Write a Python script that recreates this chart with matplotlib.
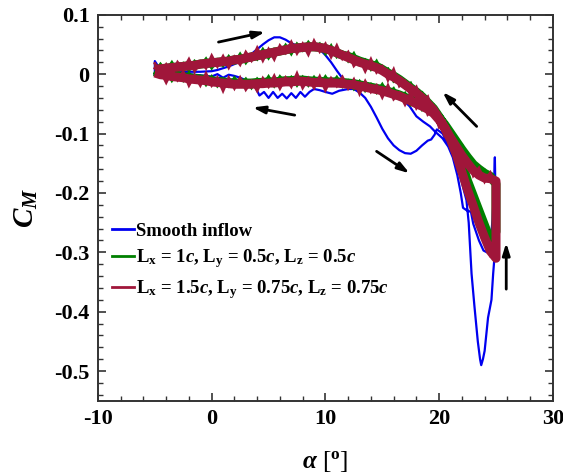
import matplotlib
matplotlib.use("Agg")
import matplotlib.pyplot as plt
from matplotlib.ticker import MultipleLocator, FixedLocator

plt.rcParams['font.family'] = ['Liberation Serif', 'DejaVu Serif']
plt.rcParams['font.weight'] = 'bold'
plt.rcParams['axes.unicode_minus'] = False
plt.rcParams['mathtext.fontset'] = 'custom'
plt.rcParams['mathtext.rm'] = 'Liberation Serif:bold'
plt.rcParams['mathtext.bf'] = 'Liberation Serif:bold'
plt.rcParams['mathtext.it'] = 'Liberation Serif:italic:bold'

# ---------------- data ----------------
labels = ['Smooth inflow',
          r'L$_{\mathrm{x}}$ = 1$c$, L$_{\mathrm{y}}$ = 0.5$c$, L$_{\mathrm{z}}$ = 0.5$c$',
          r'L$_{\mathrm{x}}$ = 1.5$c$, L$_{\mathrm{y}}$ = 0.75$c$, L$_{\mathrm{z}}$ = 0.75$c$']
colors = ['#0000F0', '#008000', '#A0163A']

up_alpha = [-5, -4.5, -4, -3.5, -3, -2.5, -2, -1.5, -1, -0.5, 0, 0.5, 1, 1.5, 2, 2.5,
            3, 3.5, 4, 4.5, 5, 5.5, 6, 6.5, 7, 7.5, 8, 8.5, 9, 9.5, 10, 10.5, 11, 11.5,
            12, 12.5, 13, 13.5, 14, 14.5, 15, 15.5, 16, 16.5, 17, 17.5, 18, 18.5, 19,
            19.5, 20, 20.5, 21, 21.5, 22, 22.5, 23, 23.5, 24, 24.5, 25]
down_alpha = [25, 24.5, 24, 23.5, 23, 22.5, 22, 21.5, 21, 20.5, 20, 19.5, 19, 18.5, 18,
              17.5, 17, 16.5, 16, 15.5, 15, 14.5, 14, 13.5, 13, 12.5, 12, 11.5, 11, 10.5,
              10, 9.5, 9, 8.5, 8, 7.5, 7, 6.5, 6, 5.5, 5, 4.5, 4, 3.5, 3, 2.5, 2, 1.5, 1,
              0.5, 0, -0.5, -1, -1.5, -2, -2.5, -3, -3.5, -4, -4.5, -5]

red_up_mean = [0.008, 0.009, 0.010, 0.011, 0.012, 0.013, 0.014, 0.015, 0.017, 0.018, 0.019,
               0.020, 0.021, 0.022, 0.024, 0.025, 0.027, 0.029, 0.031, 0.033, 0.035, 0.037,
               0.039, 0.041, 0.043, 0.044, 0.045, 0.046, 0.046, 0.045, 0.043, 0.040, 0.036,
               0.032, 0.028, 0.024, 0.020, 0.017, 0.014, 0.011, 0.006, 0.000, -0.005, -0.011,
               -0.018, -0.025, -0.032, -0.040, -0.050, -0.060, -0.075, -0.092, -0.110, -0.135,
               -0.165, -0.195, -0.222, -0.250, -0.275, -0.298, -0.310]
red_down_mean = [-0.180, -0.176, -0.175, -0.170, -0.162, -0.150, -0.137, -0.122, -0.107, -0.090,
                 -0.077, -0.066, -0.059, -0.054, -0.050, -0.045, -0.041, -0.037, -0.034, -0.031,
                 -0.028, -0.026, -0.024, -0.022, -0.020, -0.018, -0.017, -0.016, -0.015, -0.015,
                 -0.015, -0.014, -0.014, -0.013, -0.012, -0.012, -0.013, -0.013, -0.014, -0.015,
                 -0.015, -0.016, -0.016, -0.017, -0.017, -0.017, -0.017, -0.016, -0.015, -0.014,
                 -0.013, -0.011, -0.010, -0.009, -0.008, -0.006, -0.005, -0.004, -0.002, -0.001, 0.002]
green_up_mean = [0.008, 0.009, 0.010, 0.011, 0.012, 0.013, 0.014, 0.015, 0.017, 0.018, 0.019,
                 0.020, 0.021, 0.022, 0.024, 0.025, 0.027, 0.029, 0.031, 0.033, 0.035, 0.037,
                 0.039, 0.041, 0.043, 0.044, 0.045, 0.046, 0.046, 0.045, 0.043, 0.040, 0.036,
                 0.032, 0.030, 0.026, 0.022, 0.019, 0.016, 0.013, 0.008, 0.002, -0.003, -0.009,
                 -0.016, -0.023, -0.030, -0.038, -0.048, -0.058, -0.072, -0.088, -0.105, -0.125,
                 -0.150, -0.180, -0.205, -0.230, -0.255, -0.280, -0.265]
green_down_mean = [-0.185, -0.172, -0.167, -0.160, -0.152, -0.140, -0.127, -0.113, -0.099, -0.085,
                   -0.073, -0.064, -0.057, -0.052, -0.048, -0.043, -0.039, -0.035, -0.032, -0.029,
                   -0.026, -0.024, -0.022, -0.020, -0.018, -0.016, -0.015, -0.014, -0.013, -0.013,
                   -0.013, -0.012, -0.012, -0.011, -0.010, -0.010, -0.011, -0.011, -0.012, -0.013,
                   -0.013, -0.014, -0.014, -0.015, -0.015, -0.015, -0.015, -0.014, -0.013, -0.012,
                   -0.011, -0.009, -0.008, -0.007, -0.006, -0.004, -0.003, -0.002, 0.000, 0.001, 0.004]

# noisy traces
red_up = [0.018, 0.000, 0.016, -0.001, 0.020, 0.008, 0.025, 0.005, 0.021, 0.010, 0.031,
          0.013, 0.030, 0.011, 0.029, 0.016, 0.037, 0.023, 0.044, 0.023, 0.042, 0.025,
          0.048, 0.036, 0.054, 0.035, 0.051, 0.033, 0.056, 0.038, 0.051, 0.029, 0.048,
          0.026, 0.037, 0.014, 0.025, 0.005, 0.025, 0.003, 0.013, -0.010, 0.008, -0.020,
          -0.012, -0.036, -0.022, -0.047, -0.038, -0.070, -0.067, -0.104, -0.101, -0.141,
          -0.154, -0.208, -0.215, -0.259, -0.265, -0.306, -0.305]
red_down = [-0.188, -0.166, -0.181, -0.158, -0.171, -0.143, -0.148, -0.114, -0.112, -0.080,
            -0.089, -0.060, -0.068, -0.043, -0.057, -0.032, -0.051, -0.032, -0.042, -0.019,
            -0.039, -0.019, -0.030, -0.012, -0.033, -0.009, -0.024, -0.005, -0.020, -0.007,
            -0.027, -0.004, -0.023, -0.007, -0.023, 0.001, -0.021, -0.006, -0.024, -0.003,
            -0.021, -0.007, -0.028, -0.012, -0.026, -0.006, -0.024, -0.006, -0.028, -0.006,
            -0.019, 0.001, -0.019, -0.002, -0.019, 0.004, -0.010, 0.005, -0.014, 0.005, 0.010]

green_up = [0.002, 0.017, 0.006, 0.020, 0.005, 0.018, 0.006, 0.022, 0.014, 0.026, 0.010,
            0.024, 0.014, 0.030, 0.019, 0.034, 0.019, 0.033, 0.025, 0.042, 0.027, 0.042,
            0.035, 0.049, 0.034, 0.051, 0.040, 0.054, 0.042, 0.051, 0.034, 0.048, 0.029,
            0.037, 0.022, 0.035, 0.016, 0.024, 0.008, 0.022, 0.004, 0.009, -0.012, -0.005,
            -0.023, -0.015, -0.035, -0.031, -0.057, -0.052, -0.077, -0.079, -0.112, -0.120,
            -0.158, -0.173, -0.209, -0.223, -0.264, -0.275, -0.259]
green_down = [-0.178, -0.180, -0.162, -0.169, -0.146, -0.144, -0.119, -0.120, -0.094, -0.094,
              -0.065, -0.069, -0.050, -0.060, -0.044, -0.052, -0.032, -0.041, -0.024, -0.033,
              -0.017, -0.031, -0.017, -0.028, -0.012, -0.025, -0.011, -0.021, -0.005, -0.018,
              -0.004, -0.018, -0.005, -0.019, -0.005, -0.019, -0.005, -0.015, -0.004, -0.020,
              -0.004, -0.019, -0.008, -0.023, -0.008, -0.019, -0.006, -0.020, -0.008, -0.020,
              -0.004, -0.018, -0.004, -0.013, 0.002, -0.011, 0.002, -0.011, 0.006, -0.003, -0.001]

blue_alpha = [-5, -5, -4.6, -4, -3, -2, -1, 0, 0.5, 1, 1.5, 2, 2.5, 3, 3.5, 4, 4.5, 5, 5.5,
              6, 6.5, 7, 7.5, 8, 8.5, 9, 9.5, 10, 10.5, 11, 11.5, 12, 12.5, 13, 13.5, 14,
              14.5, 15, 15.5, 16, 16.5, 17, 17.5, 18, 18.5, 19, 19.3, 19.6, 19.8, 20.3, 20.8,
              21.3, 21.8, 22.1, 22.4, 22.6, 22.85, 23.1, 23.4, 23.6, 23.7, 23.85, 24.0, 24.3,
              24.45, 24.6, 24.75, 24.9, 24.95, 24.95, 24.9,
              24.85, 24.8, 24.7, 24.5, 24.2, 23.9, 23.5, 23.0, 22.8, 22.4, 22.1, 21.9, 21.6,
              21.2, 20.8, 20.3, 19.6, 19.2, 18.6, 18.0, 17.4, 16.8, 16.1, 15.5, 15, 14, 13,
              12, 11.2, 10.6, 10, 9.5, 9, 8.6, 8.2, 7.8, 7.4, 7.0, 6.6, 6.2, 5.8, 5.4, 5.0,
              4.6, 4.2, 3.8, 3.2, 2.5, 2.0, 1.5, 1.0, 0.5, 0.0, -1, -2, -3, -4, -5]
blue_cm = [0.0, 0.022, 0.010, 0.004, 0.003, 0.004, 0.004, 0.005, 0.007, 0.010, 0.013, 0.017,
           0.021, 0.027, 0.034, 0.042, 0.050, 0.057, 0.062, 0.062, 0.058, 0.052, 0.048, 0.047,
           0.047, 0.046, 0.042, 0.032, 0.020, 0.006, -0.007, -0.017, -0.025, -0.031, -0.040,
           -0.055, -0.073, -0.092, -0.108, -0.120, -0.128, -0.133, -0.134, -0.129, -0.120,
           -0.112, -0.110, -0.102, -0.093, -0.100, -0.118, -0.140, -0.166, -0.190, -0.212,
           -0.250, -0.336, -0.390, -0.450, -0.480, -0.490, -0.480, -0.466, -0.410, -0.395,
           -0.380, -0.336, -0.300, -0.250, -0.200, -0.140,
           -0.170, -0.200, -0.245, -0.285, -0.300, -0.297, -0.280, -0.252, -0.232, -0.229,
           -0.225, -0.200, -0.170, -0.140, -0.122, -0.108, -0.096, -0.088, -0.080, -0.071,
           -0.054, -0.043, -0.034, -0.030, -0.028, -0.026, -0.025, -0.025, -0.028, -0.033,
           -0.030, -0.027, -0.025, -0.030, -0.038, -0.030, -0.040, -0.032, -0.041, -0.033,
           -0.040, -0.030, -0.040, -0.030, -0.036, -0.020, -0.012, -0.006, -0.003, -0.001,
           -0.006, 0.000, -0.004, -0.002, 0.000, -0.002, 0.000, 0.000]

# arrows: (tail_alpha, tail_cm, head_alpha, head_cm)
arrows = [(0.6, 0.054, 4.7, 0.071),
          (7.3, -0.069, 3.6, -0.056),
          (14.5, -0.130, 17.4, -0.167),
          (23.3, -0.088, 20.3, -0.030),
          (25.9, -0.362, 25.9, -0.284)]

xticks = [-10, 0, 10, 20, 30]
yticks = [0.1, 0, -0.1, -0.2, -0.3, -0.4, -0.5]
yticklabels = ['0.1', '0', '-0.1', '-0.2', '-0.3', '-0.4', '-0.5']

# ---------------- figure ----------------
fig = plt.figure(figsize=(5.63, 4.76), dpi=100)
ax = fig.add_axes([0.174, 0.158, 0.808, 0.811])

loop_alpha = up_alpha + down_alpha
ax.plot(blue_alpha, blue_cm, color=colors[0], lw=1.6, label=labels[0], zorder=2)
ax.plot(loop_alpha, green_up_mean + green_down_mean, color=colors[1], lw=6.5,
        zorder=3, solid_joinstyle='round', solid_capstyle='butt')
ax.plot(loop_alpha, green_up + green_down, color=colors[1], lw=2.0,
        label=labels[1], zorder=3, solid_joinstyle='miter')
ax.plot(loop_alpha, red_up_mean + red_down_mean, color=colors[2], lw=6.5,
        zorder=4, solid_joinstyle='round', solid_capstyle='butt')
ax.plot(loop_alpha, red_up + red_down, color=colors[2], lw=2.0,
        label=labels[2], zorder=4, solid_joinstyle='miter')

for ta, tc, ha, hc in arrows:
    ax.annotate('', xy=(ha, hc), xytext=(ta, tc),
                arrowprops=dict(arrowstyle='-|>,head_length=0.7,head_width=0.22',
                                lw=2.0, color='black', shrinkA=0, shrinkB=0))

ax.set_xlim(-10, 30)
ax.set_ylim(-0.55, 0.1)
ax.set_xticks(xticks)
ax.set_xticklabels([str(t) for t in xticks])
ax.yaxis.set_major_locator(FixedLocator(yticks))
ax.set_yticklabels(yticklabels)
ax.xaxis.set_minor_locator(MultipleLocator(2))
ax.yaxis.set_minor_locator(MultipleLocator(0.02))
ax.tick_params(which='both', direction='in', top=True, right=True, color='#333333')
ax.tick_params(which='major', length=6, width=1.2, labelsize=16, pad=6)
ax.tick_params(which='minor', length=3.5, width=1.0)
for lab in ax.get_xticklabels() + ax.get_yticklabels():
    lab.set_fontweight('bold')
for sp in ax.spines.values():
    sp.set_linewidth(1.4)
    sp.set_color('#333333')

ax.set_xlabel(r'$\alpha$ [$^{\mathrm{o}}$]', fontsize=18, fontweight='normal',
              family=['Liberation Serif'], labelpad=14)
ax.set_ylabel(r'$C_M$', fontsize=21, labelpad=10)

leg = ax.legend(loc='upper left', bbox_to_anchor=(0.03, 0.462), frameon=False,
                fontsize=13.5, handlelength=1.2, handletextpad=0.1, borderpad=0,
                borderaxespad=0, labelspacing=0.42)
for line in leg.get_lines():
    line.set_linewidth(2.0)

fig.savefig('out.png', dpi=100)
